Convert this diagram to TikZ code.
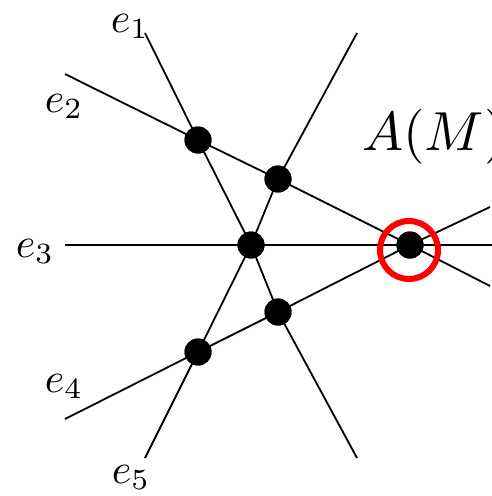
\documentclass[tikz,border=0pt]{standalone}
\usepackage{tikz}
\usetikzlibrary{positioning}
\tikzset{
  vtx/.style  ={circle, fill=black, inner sep=0pt, minimum size=27pt},
  edg/.style  ={draw=black, line width=1.8pt},
  lbl/.style  ={inner sep=0pt, anchor=base west, scale=4.2},
  ttl/.style  ={inner sep=0pt, anchor=base west, scale=5.5},
  ring/.style ={circle, draw=red, line width=6pt, inner sep=0pt, minimum size=58pt},
}

\begin{document}
\begin{tikzpicture}[x=1pt,y=-1pt]
\useasboundingbox (0,0) rectangle (492,496);

% free ends of the lines
\coordinate (e1a) at (145,33);  \coordinate (e1b) at (357,458);
\coordinate (e2a) at (65,74);   \coordinate (e2b) at (490,286);
\coordinate (e3a) at (65,245);  \coordinate (e3b) at (492,245);
\coordinate (e4a) at (65,419);  \coordinate (e4b) at (490,207);
\coordinate (e5a) at (145,458); \coordinate (e5b) at (357,33);

% crossing points
\node[vtx] (p12) at (198,140) {};
\node[vtx] (p25) at (278,179) {};
\node[vtx] (pc)  at (251,245) {};
\node[vtx] (pm)  at (410,245) {};
\node[vtx] (p14) at (278,312) {};
\node[vtx] (p45) at (198,352) {};

\draw[edg] (e1a) -- (p12.center) -- (pc.center) -- (p14.center) -- (e1b);
\draw[edg] (e2a) -- (p12.center) -- (p25.center) -- (pm.center) -- (e2b);
\draw[edg] (e3a) -- (pc.center) -- (pm.center) -- (e3b);
\draw[edg] (e4a) -- (p45.center) -- (p14.center) -- (pm.center) -- (e4b);
\draw[edg] (e5a) -- (p45.center) -- (pc.center) -- (p25.center) -- (e5b);

\foreach \p in {p12,p25,pc,pm,p14,p45}
  \fill (\p) circle (13.5pt);

\node[ring] (sel) at (409,250) {};

\node[lbl] (l1) at (110,32)  {$e_1$};
\node[lbl] (l2) at (44,112)  {$e_2$};
\node[lbl] (l3) at (15,257)  {$e_3$};
\node[lbl] (l4) at (44,392)  {$e_4$};
\node[lbl] (l5) at (111,483) {$e_5$};

\node[ttl] (am) at (361,150) {$A(M)$};
\end{tikzpicture}
\end{document}
